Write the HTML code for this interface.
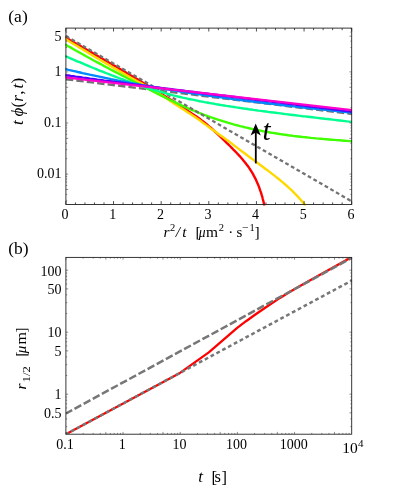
<!DOCTYPE html>
<html><head><meta charset="utf-8"><title>figure</title>
<style>html,body{margin:0;padding:0;background:#fff;font-family:"Liberation Serif",serif;}svg{display:block;opacity:0.999;will-change:transform}</style></head>
<body>
<svg width="395" height="498" viewBox="0 0 395 498">
<rect x="0" y="0" width="395" height="498" fill="#fff"/>
<defs><clipPath id="c1"><rect x="65.3" y="28.1" width="286.7" height="177.3"/></clipPath>
<clipPath id="c2"><rect x="65.9" y="257.4" width="286.3" height="176.8"/></clipPath></defs>
<g clip-path="url(#c1)">
<path d="M65.9 79.3 L352.0 114.0" fill="none" stroke="#737373" stroke-width="2.30" stroke-linejoin="round" stroke-dasharray="7.4 3.1"/>
<path d="M65.0 37.1 L66.0 37.7 L68.0 38.8 L69.9 40.0 L71.9 41.1 L73.8 42.2 L75.8 43.4 L77.8 44.5 L79.7 45.6 L81.7 46.8 L83.7 47.9 L85.6 49.0 L87.6 50.2 L89.6 51.3 L91.5 52.4 L93.5 53.6 L95.4 54.7 L97.4 55.9 L99.4 57.0 L101.3 58.1 L103.3 59.3 L105.2 60.4 L107.2 61.5 L109.2 62.7 L111.1 63.8 L113.1 65.0 L115.0 66.1 L117.0 67.3 L118.9 68.4 L120.9 69.5 L122.8 70.7 L124.8 71.8 L126.7 73.0 L128.7 74.1 L130.6 75.3 L132.6 76.5 L134.5 77.6 L136.5 78.8 L138.4 79.9 L140.4 81.1 L142.3 82.3 L144.3 83.5 L146.2 84.6 L148.1 85.8 L150.1 87.0 L152.0 88.2 L153.9 89.3 L155.9 90.5 L157.8 91.7 L159.7 92.9 L161.7 94.1 L163.6 95.3 L165.5 96.5 L167.4 97.7 L169.4 98.9 L171.3 100.1 L173.2 101.3 L175.1 102.6 L177.0 103.8 L178.9 105.0 L180.8 106.2 L182.8 107.5 L184.7 108.7 L186.6 109.9 L188.4 111.2 L190.3 112.4 L192.2 113.7 L194.1 114.9 L196.0 116.2 L197.8 117.5 L199.6 118.8 L201.4 120.2 L203.2 121.5 L205.0 122.9 L206.7 124.3 L208.5 125.8 L210.2 127.3 L211.9 128.7 L213.6 130.3 L215.2 131.8 L216.9 133.3 L218.5 134.9 L220.1 136.5 L221.8 138.1 L223.4 139.6 L225.0 141.2 L226.6 142.8 L228.3 144.4 L229.9 146.0 L231.5 147.6 L233.1 149.3 L234.7 150.9 L236.3 152.5 L237.8 154.2 L239.4 155.8 L240.9 157.5 L242.4 159.2 L243.8 160.9 L245.3 162.7 L246.6 164.5 L248.0 166.3 L249.3 168.1 L250.5 170.0 L251.7 171.9 L252.9 173.9 L253.9 175.9 L255.0 177.9 L256.0 179.9 L256.9 182.0 L257.8 184.0 L258.7 186.1 L259.5 188.3 L260.2 190.4 L261.0 192.6 L261.6 194.7 L262.3 196.9 L262.8 199.1 L263.4 201.3 L263.9 203.6 L264.3 205.8 L264.8 208.0" fill="none" stroke="#ff0000" stroke-width="2.40" stroke-linejoin="round"/>
<path d="M65.0 38.8 L66.0 39.4 L68.1 40.7 L70.2 42.0 L72.3 43.2 L74.4 44.5 L76.5 45.8 L78.6 47.1 L80.7 48.3 L82.8 49.6 L85.0 50.9 L87.1 52.1 L89.2 53.4 L91.3 54.7 L93.4 55.9 L95.5 57.2 L97.7 58.4 L99.8 59.7 L101.9 60.9 L104.0 62.2 L106.1 63.4 L108.3 64.7 L110.4 65.9 L112.5 67.2 L114.6 68.4 L116.8 69.6 L118.9 70.9 L121.0 72.1 L123.2 73.3 L125.3 74.6 L127.4 75.8 L129.6 77.0 L131.7 78.2 L133.9 79.4 L136.0 80.6 L138.2 81.8 L140.3 82.9 L142.5 84.1 L144.7 85.3 L146.8 86.5 L148.9 87.7 L151.1 89.0 L153.2 90.2 L155.3 91.4 L157.4 92.7 L159.5 94.0 L161.6 95.3 L163.7 96.6 L165.7 98.0 L167.8 99.3 L169.8 100.7 L171.9 102.1 L173.9 103.4 L176.0 104.8 L178.0 106.1 L180.1 107.5 L182.2 108.8 L184.3 110.1 L186.4 111.4 L188.4 112.8 L190.5 114.1 L192.5 115.5 L194.6 116.8 L196.6 118.2 L198.6 119.6 L200.6 121.0 L202.6 122.5 L204.6 123.9 L206.6 125.4 L208.5 126.8 L210.5 128.3 L212.5 129.7 L214.5 131.1 L216.5 132.5 L218.5 134.0 L220.5 135.4 L222.5 136.8 L224.5 138.2 L226.5 139.7 L228.5 141.1 L230.5 142.6 L232.5 144.1 L234.4 145.6 L236.4 147.1 L238.3 148.6 L240.3 150.1 L242.2 151.6 L244.2 153.0 L246.2 154.5 L248.1 156.0 L250.1 157.5 L252.1 158.9 L254.1 160.4 L256.0 161.8 L258.0 163.3 L260.0 164.8 L262.0 166.2 L264.0 167.7 L265.9 169.2 L267.9 170.6 L269.9 172.1 L271.8 173.6 L273.8 175.1 L275.7 176.6 L277.7 178.2 L279.6 179.7 L281.5 181.3 L283.4 182.9 L285.2 184.5 L287.1 186.1 L288.9 187.8 L290.7 189.4 L292.5 191.1 L294.2 192.9 L295.9 194.6 L297.6 196.4 L299.3 198.2 L300.9 200.1 L302.5 201.9 L304.1 203.8 L305.6 205.8" fill="none" stroke="#ffd800" stroke-width="2.40" stroke-linejoin="round"/>
<path d="M65.0 44.3 L66.0 44.9 L68.2 46.2 L70.5 47.4 L72.7 48.7 L74.9 50.0 L77.2 51.3 L79.4 52.5 L81.7 53.8 L83.9 55.0 L86.1 56.3 L88.4 57.5 L90.7 58.7 L92.9 60.0 L95.2 61.2 L97.4 62.4 L99.7 63.6 L102.0 64.8 L104.2 66.1 L106.5 67.3 L108.8 68.5 L111.0 69.7 L113.3 70.9 L115.6 72.1 L117.9 73.3 L120.1 74.4 L122.4 75.6 L124.7 76.8 L127.0 78.0 L129.2 79.2 L131.5 80.4 L133.8 81.5 L136.1 82.7 L138.4 83.9 L140.7 85.1 L142.9 86.2 L145.2 87.4 L147.5 88.6 L149.8 89.8 L152.1 90.9 L154.4 92.1 L156.7 93.3 L159.0 94.4 L161.2 95.6 L163.5 96.7 L165.8 97.9 L168.1 99.0 L170.4 100.1 L172.8 101.3 L175.1 102.4 L177.4 103.5 L179.7 104.6 L182.0 105.6 L184.4 106.7 L186.7 107.7 L189.1 108.8 L191.5 109.8 L193.8 110.7 L196.2 111.7 L198.6 112.7 L201.0 113.6 L203.4 114.5 L205.8 115.4 L208.2 116.3 L210.6 117.1 L213.0 118.0 L215.5 118.8 L217.9 119.6 L220.4 120.4 L222.8 121.2 L225.3 121.9 L227.7 122.7 L230.2 123.4 L232.7 124.1 L235.2 124.8 L237.6 125.4 L240.1 126.1 L242.6 126.7 L245.1 127.3 L247.6 127.9 L250.1 128.5 L252.6 129.1 L255.1 129.6 L257.6 130.1 L260.2 130.6 L262.7 131.1 L265.2 131.6 L267.7 132.0 L270.3 132.5 L272.8 132.9 L275.3 133.3 L277.9 133.7 L280.4 134.1 L283.0 134.5 L285.5 134.8 L288.0 135.2 L290.6 135.5 L293.1 135.9 L295.7 136.2 L298.3 136.5 L300.8 136.8 L303.4 137.1 L305.9 137.3 L308.5 137.6 L311.0 137.9 L313.6 138.1 L316.2 138.4 L318.7 138.6 L321.3 138.8 L323.8 139.1 L326.4 139.3 L329.0 139.5 L331.5 139.7 L334.1 139.9 L336.7 140.1 L339.2 140.3 L341.8 140.5 L344.3 140.7 L346.9 140.9 L349.4 141.1 L352.0 141.3" fill="none" stroke="#40ff00" stroke-width="2.40" stroke-linejoin="round"/>
<path d="M65.9 36.0 L352.0 201.5" fill="none" stroke="#737373" stroke-width="2.30" stroke-linejoin="round" stroke-dasharray="3.8 2.7"/>
<path d="M65.0 55.9 L66.0 56.4 L68.2 57.3 L70.5 58.3 L72.8 59.3 L75.1 60.3 L77.3 61.3 L79.6 62.2 L81.9 63.2 L84.2 64.2 L86.5 65.1 L88.8 66.1 L91.0 67.0 L93.3 68.0 L95.6 68.9 L97.9 69.9 L100.2 70.8 L102.5 71.7 L104.8 72.6 L107.2 73.5 L109.5 74.4 L111.8 75.3 L114.1 76.2 L116.4 77.1 L118.8 78.0 L121.1 78.9 L123.4 79.7 L125.7 80.6 L128.1 81.4 L130.4 82.2 L132.8 83.1 L135.1 83.9 L137.5 84.7 L139.8 85.5 L142.2 86.2 L144.5 87.0 L146.9 87.8 L149.2 88.5 L151.6 89.2 L154.0 90.0 L156.4 90.7 L158.7 91.4 L161.1 92.0 L163.5 92.7 L165.9 93.4 L168.3 94.0 L170.7 94.6 L173.1 95.3 L175.5 95.9 L177.9 96.5 L180.3 97.0 L182.7 97.6 L185.1 98.1 L187.5 98.7 L190.0 99.2 L192.4 99.7 L194.8 100.2 L197.2 100.7 L199.7 101.2 L202.1 101.6 L204.5 102.1 L207.0 102.5 L209.4 103.0 L211.8 103.4 L214.3 103.8 L216.7 104.3 L219.2 104.7 L221.6 105.1 L224.1 105.5 L226.5 105.9 L229.0 106.2 L231.4 106.6 L233.9 107.0 L236.3 107.4 L238.8 107.7 L241.2 108.1 L243.7 108.5 L246.1 108.8 L248.6 109.2 L251.1 109.5 L253.5 109.9 L256.0 110.2 L258.4 110.6 L260.9 110.9 L263.4 111.2 L265.8 111.5 L268.3 111.9 L270.7 112.2 L273.2 112.5 L275.7 112.8 L278.1 113.1 L280.6 113.4 L283.0 113.8 L285.5 114.1 L288.0 114.4 L290.4 114.7 L292.9 115.0 L295.4 115.3 L297.8 115.6 L300.3 115.9 L302.7 116.2 L305.2 116.4 L307.7 116.7 L310.1 117.0 L312.6 117.3 L315.1 117.6 L317.5 117.9 L320.0 118.2 L322.5 118.5 L324.9 118.8 L327.4 119.0 L329.8 119.3 L332.3 119.6 L334.8 119.9 L337.2 120.2 L339.7 120.5 L342.2 120.8 L344.6 121.1 L347.1 121.4 L349.5 121.6 L352.0 121.9" fill="none" stroke="#00ff90" stroke-width="2.40" stroke-linejoin="round"/>
<path d="M65.0 69.0 L66.0 69.2 L68.4 69.8 L70.7 70.3 L73.1 70.9 L75.5 71.4 L77.9 72.0 L80.2 72.5 L82.6 73.1 L85.0 73.6 L87.4 74.1 L89.7 74.7 L92.1 75.2 L94.5 75.7 L96.9 76.2 L99.3 76.7 L101.6 77.2 L104.0 77.7 L106.4 78.2 L108.8 78.7 L111.2 79.2 L113.6 79.6 L115.9 80.1 L118.3 80.6 L120.7 81.1 L123.1 81.5 L125.5 82.0 L127.9 82.4 L130.3 82.9 L132.7 83.3 L135.1 83.8 L137.4 84.2 L139.8 84.6 L142.2 85.1 L144.6 85.5 L147.0 85.9 L149.4 86.4 L151.8 86.8 L154.2 87.2 L156.6 87.6 L159.0 88.0 L161.4 88.4 L163.8 88.8 L166.2 89.2 L168.6 89.6 L171.0 90.0 L173.4 90.4 L175.8 90.7 L178.2 91.1 L180.6 91.5 L183.0 91.9 L185.4 92.2 L187.8 92.6 L190.2 93.0 L192.6 93.3 L195.0 93.7 L197.4 94.0 L199.9 94.4 L202.3 94.7 L204.7 95.1 L207.1 95.4 L209.5 95.8 L211.9 96.1 L214.3 96.4 L216.7 96.8 L219.1 97.1 L221.5 97.4 L223.9 97.8 L226.4 98.1 L228.8 98.4 L231.2 98.7 L233.6 99.1 L236.0 99.4 L238.4 99.7 L240.8 100.0 L243.2 100.3 L245.7 100.6 L248.1 100.9 L250.5 101.2 L252.9 101.5 L255.3 101.8 L257.7 102.1 L260.1 102.4 L262.6 102.7 L265.0 103.0 L267.4 103.3 L269.8 103.6 L272.2 103.9 L274.6 104.1 L277.1 104.4 L279.5 104.7 L281.9 105.0 L284.3 105.3 L286.7 105.5 L289.1 105.8 L291.6 106.1 L294.0 106.4 L296.4 106.6 L298.8 106.9 L301.2 107.2 L303.6 107.5 L306.1 107.7 L308.5 108.0 L310.9 108.3 L313.3 108.5 L315.7 108.8 L318.2 109.1 L320.6 109.3 L323.0 109.6 L325.4 109.8 L327.8 110.1 L330.2 110.4 L332.7 110.6 L335.1 110.9 L337.5 111.2 L339.9 111.4 L342.3 111.7 L344.8 111.9 L347.2 112.2 L349.6 112.4 L352.0 112.7" fill="none" stroke="#0088ff" stroke-width="2.40" stroke-linejoin="round"/>
<path d="M65.0 75.0 L66.0 75.2 L68.4 75.5 L70.8 75.9 L73.2 76.2 L75.6 76.6 L78.0 76.9 L80.4 77.2 L82.8 77.6 L85.2 77.9 L87.6 78.2 L90.0 78.6 L92.4 78.9 L94.8 79.2 L97.2 79.6 L99.6 79.9 L102.0 80.2 L104.4 80.6 L106.8 80.9 L109.2 81.2 L111.6 81.5 L114.0 81.9 L116.4 82.2 L118.8 82.5 L121.2 82.8 L123.6 83.1 L126.0 83.5 L128.4 83.8 L130.8 84.1 L133.2 84.4 L135.6 84.7 L138.0 85.0 L140.4 85.3 L142.8 85.6 L145.2 86.0 L147.6 86.3 L150.0 86.6 L152.4 86.9 L154.8 87.2 L157.2 87.5 L159.6 87.8 L162.0 88.1 L164.4 88.4 L166.8 88.7 L169.2 89.0 L171.6 89.3 L174.0 89.6 L176.5 89.9 L178.9 90.2 L181.3 90.5 L183.7 90.8 L186.1 91.1 L188.5 91.4 L190.9 91.7 L193.3 92.0 L195.7 92.3 L198.1 92.6 L200.5 92.9 L202.9 93.2 L205.3 93.5 L207.7 93.8 L210.1 94.1 L212.5 94.4 L214.9 94.7 L217.3 95.0 L219.7 95.3 L222.1 95.6 L224.6 95.8 L227.0 96.1 L229.4 96.4 L231.8 96.7 L234.2 97.0 L236.6 97.3 L239.0 97.6 L241.4 97.9 L243.8 98.2 L246.2 98.5 L248.6 98.8 L251.0 99.1 L253.4 99.4 L255.8 99.7 L258.2 100.0 L260.6 100.2 L263.0 100.5 L265.4 100.8 L267.9 101.1 L270.3 101.4 L272.7 101.7 L275.1 102.0 L277.5 102.3 L279.9 102.6 L282.3 102.9 L284.7 103.2 L287.1 103.5 L289.5 103.8 L291.9 104.1 L294.3 104.4 L296.7 104.7 L299.1 105.0 L301.5 105.3 L303.9 105.6 L306.3 105.9 L308.7 106.2 L311.1 106.5 L313.5 106.8 L316.0 107.1 L318.4 107.4 L320.8 107.7 L323.2 108.0 L325.6 108.3 L328.0 108.6 L330.4 108.9 L332.8 109.2 L335.2 109.5 L337.6 109.8 L340.0 110.1 L342.4 110.5 L344.8 110.8 L347.2 111.1 L349.6 111.4 L352.0 111.7" fill="none" stroke="#5500ff" stroke-width="2.40" stroke-linejoin="round"/>
<path d="M65.0 77.4 L352.0 110.1" fill="none" stroke="#ff00cc" stroke-width="2.40" stroke-linejoin="round"/>
</g>
<path d="M255.8 163.4 L255.8 130" stroke="#000" stroke-width="1.8" fill="none"/>
<path d="M255.7 123.6 L260.8 135.5 L255.7 132.6 L250.6 135.5 Z" fill="#000"/>
<text x="262.6" y="139.6" font-family="Liberation Serif, serif" font-style="italic" font-size="29" fill="#000">t</text>
<line x1="65.90" y1="204.50" x2="65.90" y2="201.10" stroke="#222" stroke-width="0.8"/>
<line x1="75.43" y1="204.50" x2="75.43" y2="202.40" stroke="#222" stroke-width="0.8"/>
<line x1="84.95" y1="204.50" x2="84.95" y2="202.40" stroke="#222" stroke-width="0.8"/>
<line x1="94.48" y1="204.50" x2="94.48" y2="202.40" stroke="#222" stroke-width="0.8"/>
<line x1="104.01" y1="204.50" x2="104.01" y2="202.40" stroke="#222" stroke-width="0.8"/>
<line x1="113.53" y1="204.50" x2="113.53" y2="201.10" stroke="#222" stroke-width="0.8"/>
<line x1="123.06" y1="204.50" x2="123.06" y2="202.40" stroke="#222" stroke-width="0.8"/>
<line x1="132.59" y1="204.50" x2="132.59" y2="202.40" stroke="#222" stroke-width="0.8"/>
<line x1="142.11" y1="204.50" x2="142.11" y2="202.40" stroke="#222" stroke-width="0.8"/>
<line x1="151.64" y1="204.50" x2="151.64" y2="202.40" stroke="#222" stroke-width="0.8"/>
<line x1="161.17" y1="204.50" x2="161.17" y2="201.10" stroke="#222" stroke-width="0.8"/>
<line x1="170.69" y1="204.50" x2="170.69" y2="202.40" stroke="#222" stroke-width="0.8"/>
<line x1="180.22" y1="204.50" x2="180.22" y2="202.40" stroke="#222" stroke-width="0.8"/>
<line x1="189.75" y1="204.50" x2="189.75" y2="202.40" stroke="#222" stroke-width="0.8"/>
<line x1="199.27" y1="204.50" x2="199.27" y2="202.40" stroke="#222" stroke-width="0.8"/>
<line x1="208.80" y1="204.50" x2="208.80" y2="201.10" stroke="#222" stroke-width="0.8"/>
<line x1="218.33" y1="204.50" x2="218.33" y2="202.40" stroke="#222" stroke-width="0.8"/>
<line x1="227.85" y1="204.50" x2="227.85" y2="202.40" stroke="#222" stroke-width="0.8"/>
<line x1="237.38" y1="204.50" x2="237.38" y2="202.40" stroke="#222" stroke-width="0.8"/>
<line x1="246.91" y1="204.50" x2="246.91" y2="202.40" stroke="#222" stroke-width="0.8"/>
<line x1="256.43" y1="204.50" x2="256.43" y2="201.10" stroke="#222" stroke-width="0.8"/>
<line x1="265.96" y1="204.50" x2="265.96" y2="202.40" stroke="#222" stroke-width="0.8"/>
<line x1="275.49" y1="204.50" x2="275.49" y2="202.40" stroke="#222" stroke-width="0.8"/>
<line x1="285.01" y1="204.50" x2="285.01" y2="202.40" stroke="#222" stroke-width="0.8"/>
<line x1="294.54" y1="204.50" x2="294.54" y2="202.40" stroke="#222" stroke-width="0.8"/>
<line x1="304.07" y1="204.50" x2="304.07" y2="201.10" stroke="#222" stroke-width="0.8"/>
<line x1="313.59" y1="204.50" x2="313.59" y2="202.40" stroke="#222" stroke-width="0.8"/>
<line x1="323.12" y1="204.50" x2="323.12" y2="202.40" stroke="#222" stroke-width="0.8"/>
<line x1="332.65" y1="204.50" x2="332.65" y2="202.40" stroke="#222" stroke-width="0.8"/>
<line x1="342.17" y1="204.50" x2="342.17" y2="202.40" stroke="#222" stroke-width="0.8"/>
<line x1="351.70" y1="204.50" x2="351.70" y2="201.10" stroke="#222" stroke-width="0.8"/>
<line x1="65.90" y1="28.10" x2="65.90" y2="31.50" stroke="#222" stroke-width="0.8"/>
<line x1="75.43" y1="28.10" x2="75.43" y2="30.20" stroke="#222" stroke-width="0.8"/>
<line x1="84.95" y1="28.10" x2="84.95" y2="30.20" stroke="#222" stroke-width="0.8"/>
<line x1="94.48" y1="28.10" x2="94.48" y2="30.20" stroke="#222" stroke-width="0.8"/>
<line x1="104.01" y1="28.10" x2="104.01" y2="30.20" stroke="#222" stroke-width="0.8"/>
<line x1="113.53" y1="28.10" x2="113.53" y2="31.50" stroke="#222" stroke-width="0.8"/>
<line x1="123.06" y1="28.10" x2="123.06" y2="30.20" stroke="#222" stroke-width="0.8"/>
<line x1="132.59" y1="28.10" x2="132.59" y2="30.20" stroke="#222" stroke-width="0.8"/>
<line x1="142.11" y1="28.10" x2="142.11" y2="30.20" stroke="#222" stroke-width="0.8"/>
<line x1="151.64" y1="28.10" x2="151.64" y2="30.20" stroke="#222" stroke-width="0.8"/>
<line x1="161.17" y1="28.10" x2="161.17" y2="31.50" stroke="#222" stroke-width="0.8"/>
<line x1="170.69" y1="28.10" x2="170.69" y2="30.20" stroke="#222" stroke-width="0.8"/>
<line x1="180.22" y1="28.10" x2="180.22" y2="30.20" stroke="#222" stroke-width="0.8"/>
<line x1="189.75" y1="28.10" x2="189.75" y2="30.20" stroke="#222" stroke-width="0.8"/>
<line x1="199.27" y1="28.10" x2="199.27" y2="30.20" stroke="#222" stroke-width="0.8"/>
<line x1="208.80" y1="28.10" x2="208.80" y2="31.50" stroke="#222" stroke-width="0.8"/>
<line x1="218.33" y1="28.10" x2="218.33" y2="30.20" stroke="#222" stroke-width="0.8"/>
<line x1="227.85" y1="28.10" x2="227.85" y2="30.20" stroke="#222" stroke-width="0.8"/>
<line x1="237.38" y1="28.10" x2="237.38" y2="30.20" stroke="#222" stroke-width="0.8"/>
<line x1="246.91" y1="28.10" x2="246.91" y2="30.20" stroke="#222" stroke-width="0.8"/>
<line x1="256.43" y1="28.10" x2="256.43" y2="31.50" stroke="#222" stroke-width="0.8"/>
<line x1="265.96" y1="28.10" x2="265.96" y2="30.20" stroke="#222" stroke-width="0.8"/>
<line x1="275.49" y1="28.10" x2="275.49" y2="30.20" stroke="#222" stroke-width="0.8"/>
<line x1="285.01" y1="28.10" x2="285.01" y2="30.20" stroke="#222" stroke-width="0.8"/>
<line x1="294.54" y1="28.10" x2="294.54" y2="30.20" stroke="#222" stroke-width="0.8"/>
<line x1="304.07" y1="28.10" x2="304.07" y2="31.50" stroke="#222" stroke-width="0.8"/>
<line x1="313.59" y1="28.10" x2="313.59" y2="30.20" stroke="#222" stroke-width="0.8"/>
<line x1="323.12" y1="28.10" x2="323.12" y2="30.20" stroke="#222" stroke-width="0.8"/>
<line x1="332.65" y1="28.10" x2="332.65" y2="30.20" stroke="#222" stroke-width="0.8"/>
<line x1="342.17" y1="28.10" x2="342.17" y2="30.20" stroke="#222" stroke-width="0.8"/>
<line x1="351.70" y1="28.10" x2="351.70" y2="31.50" stroke="#222" stroke-width="0.8"/>
<line x1="65.90" y1="200.82" x2="67.20" y2="200.82" stroke="#444" stroke-width="0.6"/>
<line x1="65.90" y1="194.43" x2="67.20" y2="194.43" stroke="#444" stroke-width="0.6"/>
<line x1="65.90" y1="189.48" x2="68.20" y2="189.48" stroke="#444" stroke-width="0.6"/>
<line x1="65.90" y1="185.44" x2="67.20" y2="185.44" stroke="#444" stroke-width="0.6"/>
<line x1="65.90" y1="182.02" x2="67.20" y2="182.02" stroke="#444" stroke-width="0.6"/>
<line x1="65.90" y1="179.05" x2="67.20" y2="179.05" stroke="#444" stroke-width="0.6"/>
<line x1="65.90" y1="176.44" x2="67.20" y2="176.44" stroke="#444" stroke-width="0.6"/>
<line x1="65.90" y1="174.10" x2="68.20" y2="174.10" stroke="#444" stroke-width="0.6"/>
<line x1="65.90" y1="158.72" x2="67.20" y2="158.72" stroke="#444" stroke-width="0.6"/>
<line x1="65.90" y1="149.72" x2="67.20" y2="149.72" stroke="#444" stroke-width="0.6"/>
<line x1="65.90" y1="143.33" x2="67.20" y2="143.33" stroke="#444" stroke-width="0.6"/>
<line x1="65.90" y1="138.38" x2="68.20" y2="138.38" stroke="#444" stroke-width="0.6"/>
<line x1="65.90" y1="134.34" x2="67.20" y2="134.34" stroke="#444" stroke-width="0.6"/>
<line x1="65.90" y1="130.92" x2="67.20" y2="130.92" stroke="#444" stroke-width="0.6"/>
<line x1="65.90" y1="127.95" x2="67.20" y2="127.95" stroke="#444" stroke-width="0.6"/>
<line x1="65.90" y1="125.34" x2="67.20" y2="125.34" stroke="#444" stroke-width="0.6"/>
<line x1="65.90" y1="123.00" x2="68.20" y2="123.00" stroke="#444" stroke-width="0.6"/>
<line x1="65.90" y1="107.62" x2="67.20" y2="107.62" stroke="#444" stroke-width="0.6"/>
<line x1="65.90" y1="98.62" x2="67.20" y2="98.62" stroke="#444" stroke-width="0.6"/>
<line x1="65.90" y1="92.23" x2="67.20" y2="92.23" stroke="#444" stroke-width="0.6"/>
<line x1="65.90" y1="87.28" x2="68.20" y2="87.28" stroke="#444" stroke-width="0.6"/>
<line x1="65.90" y1="83.24" x2="67.20" y2="83.24" stroke="#444" stroke-width="0.6"/>
<line x1="65.90" y1="79.82" x2="67.20" y2="79.82" stroke="#444" stroke-width="0.6"/>
<line x1="65.90" y1="76.85" x2="67.20" y2="76.85" stroke="#444" stroke-width="0.6"/>
<line x1="65.90" y1="74.24" x2="67.20" y2="74.24" stroke="#444" stroke-width="0.6"/>
<line x1="65.90" y1="71.90" x2="68.20" y2="71.90" stroke="#444" stroke-width="0.6"/>
<line x1="65.90" y1="56.52" x2="67.20" y2="56.52" stroke="#444" stroke-width="0.6"/>
<line x1="65.90" y1="47.52" x2="67.20" y2="47.52" stroke="#444" stroke-width="0.6"/>
<line x1="65.90" y1="41.13" x2="67.20" y2="41.13" stroke="#444" stroke-width="0.6"/>
<line x1="65.90" y1="36.18" x2="68.20" y2="36.18" stroke="#444" stroke-width="0.6"/>
<line x1="65.90" y1="32.14" x2="67.20" y2="32.14" stroke="#444" stroke-width="0.6"/>
<line x1="65.90" y1="28.72" x2="67.20" y2="28.72" stroke="#444" stroke-width="0.6"/>
<line x1="351.70" y1="200.82" x2="350.40" y2="200.82" stroke="#444" stroke-width="0.6"/>
<line x1="351.70" y1="194.43" x2="350.40" y2="194.43" stroke="#444" stroke-width="0.6"/>
<line x1="351.70" y1="189.48" x2="349.40" y2="189.48" stroke="#444" stroke-width="0.6"/>
<line x1="351.70" y1="185.44" x2="350.40" y2="185.44" stroke="#444" stroke-width="0.6"/>
<line x1="351.70" y1="182.02" x2="350.40" y2="182.02" stroke="#444" stroke-width="0.6"/>
<line x1="351.70" y1="179.05" x2="350.40" y2="179.05" stroke="#444" stroke-width="0.6"/>
<line x1="351.70" y1="176.44" x2="350.40" y2="176.44" stroke="#444" stroke-width="0.6"/>
<line x1="351.70" y1="174.10" x2="349.40" y2="174.10" stroke="#444" stroke-width="0.6"/>
<line x1="351.70" y1="158.72" x2="350.40" y2="158.72" stroke="#444" stroke-width="0.6"/>
<line x1="351.70" y1="149.72" x2="350.40" y2="149.72" stroke="#444" stroke-width="0.6"/>
<line x1="351.70" y1="143.33" x2="350.40" y2="143.33" stroke="#444" stroke-width="0.6"/>
<line x1="351.70" y1="138.38" x2="349.40" y2="138.38" stroke="#444" stroke-width="0.6"/>
<line x1="351.70" y1="134.34" x2="350.40" y2="134.34" stroke="#444" stroke-width="0.6"/>
<line x1="351.70" y1="130.92" x2="350.40" y2="130.92" stroke="#444" stroke-width="0.6"/>
<line x1="351.70" y1="127.95" x2="350.40" y2="127.95" stroke="#444" stroke-width="0.6"/>
<line x1="351.70" y1="125.34" x2="350.40" y2="125.34" stroke="#444" stroke-width="0.6"/>
<line x1="351.70" y1="123.00" x2="349.40" y2="123.00" stroke="#444" stroke-width="0.6"/>
<line x1="351.70" y1="107.62" x2="350.40" y2="107.62" stroke="#444" stroke-width="0.6"/>
<line x1="351.70" y1="98.62" x2="350.40" y2="98.62" stroke="#444" stroke-width="0.6"/>
<line x1="351.70" y1="92.23" x2="350.40" y2="92.23" stroke="#444" stroke-width="0.6"/>
<line x1="351.70" y1="87.28" x2="349.40" y2="87.28" stroke="#444" stroke-width="0.6"/>
<line x1="351.70" y1="83.24" x2="350.40" y2="83.24" stroke="#444" stroke-width="0.6"/>
<line x1="351.70" y1="79.82" x2="350.40" y2="79.82" stroke="#444" stroke-width="0.6"/>
<line x1="351.70" y1="76.85" x2="350.40" y2="76.85" stroke="#444" stroke-width="0.6"/>
<line x1="351.70" y1="74.24" x2="350.40" y2="74.24" stroke="#444" stroke-width="0.6"/>
<line x1="351.70" y1="71.90" x2="349.40" y2="71.90" stroke="#444" stroke-width="0.6"/>
<line x1="351.70" y1="56.52" x2="350.40" y2="56.52" stroke="#444" stroke-width="0.6"/>
<line x1="351.70" y1="47.52" x2="350.40" y2="47.52" stroke="#444" stroke-width="0.6"/>
<line x1="351.70" y1="41.13" x2="350.40" y2="41.13" stroke="#444" stroke-width="0.6"/>
<line x1="351.70" y1="36.18" x2="349.40" y2="36.18" stroke="#444" stroke-width="0.6"/>
<line x1="351.70" y1="32.14" x2="350.40" y2="32.14" stroke="#444" stroke-width="0.6"/>
<line x1="351.70" y1="28.72" x2="350.40" y2="28.72" stroke="#444" stroke-width="0.6"/>
<rect x="65.90" y="28.10" width="285.80" height="176.40" fill="none" stroke="#222" stroke-width="0.9"/>
<text x="61.6" y="40.7" text-anchor="end" font-family="Liberation Serif, serif" font-size="14" fill="#000" >5</text>
<text x="61.6" y="76.4" text-anchor="end" font-family="Liberation Serif, serif" font-size="14" fill="#000" >1</text>
<text x="61.6" y="127.1" text-anchor="end" font-family="Liberation Serif, serif" font-size="14" fill="#000" >0.1</text>
<text x="61.6" y="177.8" text-anchor="end" font-family="Liberation Serif, serif" font-size="14" fill="#000" >0.01</text>
<text x="65.1" y="218.5" text-anchor="middle" font-family="Liberation Serif, serif" font-size="14" fill="#000" >0</text>
<text x="112.7" y="218.5" text-anchor="middle" font-family="Liberation Serif, serif" font-size="14" fill="#000" >1</text>
<text x="160.4" y="218.5" text-anchor="middle" font-family="Liberation Serif, serif" font-size="14" fill="#000" >2</text>
<text x="208.0" y="218.5" text-anchor="middle" font-family="Liberation Serif, serif" font-size="14" fill="#000" >3</text>
<text x="255.6" y="218.5" text-anchor="middle" font-family="Liberation Serif, serif" font-size="14" fill="#000" >4</text>
<text x="303.3" y="218.5" text-anchor="middle" font-family="Liberation Serif, serif" font-size="14" fill="#000" >5</text>
<text x="350.9" y="218.5" text-anchor="middle" font-family="Liberation Serif, serif" font-size="14" fill="#000" >6</text>
<text x="8.3" y="22.0" font-family="Liberation Serif, serif" font-size="17.5" fill="#000">(a)</text>
<text x="8.3" y="254.0" font-family="Liberation Serif, serif" font-size="17.5" fill="#000">(b)</text>
<text x="163.6" y="236.6" font-family="Liberation Serif, serif" fill="#000" font-size="15.5" font-style="italic">r</text>
<text x="170.0" y="231.2" font-family="Liberation Serif, serif" fill="#000" font-size="10.5">2</text>
<text x="175.8" y="236.6" font-family="Liberation Serif, serif" fill="#000" font-size="15.5" font-style="italic">/</text>
<text x="182.2" y="236.6" font-family="Liberation Serif, serif" fill="#000" font-size="15.5" font-style="italic">t</text>
<text x="195.6" y="237.2" font-family="Liberation Serif, serif" fill="#000" font-size="15.5">[</text>
<text x="198.8" y="236.6" font-family="Liberation Serif, serif" fill="#000" font-size="15.0" font-style="italic" textLength="6.8" lengthAdjust="spacingAndGlyphs">μ</text>
<text x="205.9" y="236.6" font-family="Liberation Serif, serif" fill="#000" font-size="15.0" textLength="12.0" lengthAdjust="spacingAndGlyphs">m</text>
<text x="218.8" y="231.2" font-family="Liberation Serif, serif" fill="#000" font-size="10.5">2</text>
<text x="228.2" y="236.6" font-family="Liberation Serif, serif" fill="#000" font-size="15.0">·</text>
<text x="236.4" y="236.6" font-family="Liberation Serif, serif" fill="#000" font-size="15.0">s</text>
<text x="242.2" y="231.2" font-family="Liberation Serif, serif" fill="#000" font-size="10.5" textLength="6.6" lengthAdjust="spacingAndGlyphs">−</text>
<text x="249.4" y="231.2" font-family="Liberation Serif, serif" fill="#000" font-size="10.5">1</text>
<text x="254.4" y="237.2" font-family="Liberation Serif, serif" fill="#000" font-size="15.5">]</text>
<text transform="translate(22.8,101.4) rotate(-90)" text-anchor="middle" font-family="Liberation Serif, serif" font-size="17" textLength="47" lengthAdjust="spacing" fill="#000"><tspan font-style="italic">t&#8201;ϕ</tspan>(<tspan font-style="italic">r</tspan>,<tspan font-style="italic" dx="2">t</tspan>)</text>
<g clip-path="url(#c2)">
<path d="M65.9 434.2 L180.0 372.9 L208.8 352.4 L237.2 327.8 L246.0 321.2 L255.0 314.8 L263.0 309.3 L270.0 304.5 L280.0 297.9 L290.0 291.8 L300.0 286.0 L320.0 274.8 L352.0 256.9" fill="none" stroke="#ff0000" stroke-width="2.30" stroke-linejoin="round"/>
<path d="M65.9 413.5 L352.0 257.8" fill="none" stroke="#777" stroke-width="2.50" stroke-linejoin="round" stroke-dasharray="7.7 2.7" stroke-dashoffset="0.6"/>
<path d="M65.9 434.2 L352.0 280.4" fill="none" stroke="#777" stroke-width="2.50" stroke-linejoin="round" stroke-dasharray="3.8 2.8" stroke-dashoffset="0.7"/>
</g>
<line x1="65.90" y1="434.20" x2="65.90" y2="431.90" stroke="#444" stroke-width="0.6"/>
<line x1="83.11" y1="434.20" x2="83.11" y2="432.90" stroke="#444" stroke-width="0.6"/>
<line x1="93.17" y1="434.20" x2="93.17" y2="432.90" stroke="#444" stroke-width="0.6"/>
<line x1="100.31" y1="434.20" x2="100.31" y2="432.90" stroke="#444" stroke-width="0.6"/>
<line x1="105.85" y1="434.20" x2="105.85" y2="431.90" stroke="#444" stroke-width="0.6"/>
<line x1="110.38" y1="434.20" x2="110.38" y2="432.90" stroke="#444" stroke-width="0.6"/>
<line x1="114.21" y1="434.20" x2="114.21" y2="432.90" stroke="#444" stroke-width="0.6"/>
<line x1="117.52" y1="434.20" x2="117.52" y2="432.90" stroke="#444" stroke-width="0.6"/>
<line x1="120.44" y1="434.20" x2="120.44" y2="432.90" stroke="#444" stroke-width="0.6"/>
<line x1="123.06" y1="434.20" x2="123.06" y2="431.90" stroke="#444" stroke-width="0.6"/>
<line x1="140.27" y1="434.20" x2="140.27" y2="432.90" stroke="#444" stroke-width="0.6"/>
<line x1="150.33" y1="434.20" x2="150.33" y2="432.90" stroke="#444" stroke-width="0.6"/>
<line x1="157.47" y1="434.20" x2="157.47" y2="432.90" stroke="#444" stroke-width="0.6"/>
<line x1="163.01" y1="434.20" x2="163.01" y2="431.90" stroke="#444" stroke-width="0.6"/>
<line x1="167.54" y1="434.20" x2="167.54" y2="432.90" stroke="#444" stroke-width="0.6"/>
<line x1="171.37" y1="434.20" x2="171.37" y2="432.90" stroke="#444" stroke-width="0.6"/>
<line x1="174.68" y1="434.20" x2="174.68" y2="432.90" stroke="#444" stroke-width="0.6"/>
<line x1="177.60" y1="434.20" x2="177.60" y2="432.90" stroke="#444" stroke-width="0.6"/>
<line x1="180.22" y1="434.20" x2="180.22" y2="431.90" stroke="#444" stroke-width="0.6"/>
<line x1="197.43" y1="434.20" x2="197.43" y2="432.90" stroke="#444" stroke-width="0.6"/>
<line x1="207.49" y1="434.20" x2="207.49" y2="432.90" stroke="#444" stroke-width="0.6"/>
<line x1="214.63" y1="434.20" x2="214.63" y2="432.90" stroke="#444" stroke-width="0.6"/>
<line x1="220.17" y1="434.20" x2="220.17" y2="431.90" stroke="#444" stroke-width="0.6"/>
<line x1="224.70" y1="434.20" x2="224.70" y2="432.90" stroke="#444" stroke-width="0.6"/>
<line x1="228.53" y1="434.20" x2="228.53" y2="432.90" stroke="#444" stroke-width="0.6"/>
<line x1="231.84" y1="434.20" x2="231.84" y2="432.90" stroke="#444" stroke-width="0.6"/>
<line x1="234.76" y1="434.20" x2="234.76" y2="432.90" stroke="#444" stroke-width="0.6"/>
<line x1="237.38" y1="434.20" x2="237.38" y2="431.90" stroke="#444" stroke-width="0.6"/>
<line x1="254.59" y1="434.20" x2="254.59" y2="432.90" stroke="#444" stroke-width="0.6"/>
<line x1="264.65" y1="434.20" x2="264.65" y2="432.90" stroke="#444" stroke-width="0.6"/>
<line x1="271.79" y1="434.20" x2="271.79" y2="432.90" stroke="#444" stroke-width="0.6"/>
<line x1="277.33" y1="434.20" x2="277.33" y2="431.90" stroke="#444" stroke-width="0.6"/>
<line x1="281.86" y1="434.20" x2="281.86" y2="432.90" stroke="#444" stroke-width="0.6"/>
<line x1="285.69" y1="434.20" x2="285.69" y2="432.90" stroke="#444" stroke-width="0.6"/>
<line x1="289.00" y1="434.20" x2="289.00" y2="432.90" stroke="#444" stroke-width="0.6"/>
<line x1="291.92" y1="434.20" x2="291.92" y2="432.90" stroke="#444" stroke-width="0.6"/>
<line x1="294.54" y1="434.20" x2="294.54" y2="431.90" stroke="#444" stroke-width="0.6"/>
<line x1="311.75" y1="434.20" x2="311.75" y2="432.90" stroke="#444" stroke-width="0.6"/>
<line x1="321.81" y1="434.20" x2="321.81" y2="432.90" stroke="#444" stroke-width="0.6"/>
<line x1="328.95" y1="434.20" x2="328.95" y2="432.90" stroke="#444" stroke-width="0.6"/>
<line x1="334.49" y1="434.20" x2="334.49" y2="431.90" stroke="#444" stroke-width="0.6"/>
<line x1="339.02" y1="434.20" x2="339.02" y2="432.90" stroke="#444" stroke-width="0.6"/>
<line x1="342.85" y1="434.20" x2="342.85" y2="432.90" stroke="#444" stroke-width="0.6"/>
<line x1="346.16" y1="434.20" x2="346.16" y2="432.90" stroke="#444" stroke-width="0.6"/>
<line x1="349.08" y1="434.20" x2="349.08" y2="432.90" stroke="#444" stroke-width="0.6"/>
<line x1="65.90" y1="257.40" x2="65.90" y2="259.70" stroke="#444" stroke-width="0.6"/>
<line x1="83.11" y1="257.40" x2="83.11" y2="258.70" stroke="#444" stroke-width="0.6"/>
<line x1="93.17" y1="257.40" x2="93.17" y2="258.70" stroke="#444" stroke-width="0.6"/>
<line x1="100.31" y1="257.40" x2="100.31" y2="258.70" stroke="#444" stroke-width="0.6"/>
<line x1="105.85" y1="257.40" x2="105.85" y2="259.70" stroke="#444" stroke-width="0.6"/>
<line x1="110.38" y1="257.40" x2="110.38" y2="258.70" stroke="#444" stroke-width="0.6"/>
<line x1="114.21" y1="257.40" x2="114.21" y2="258.70" stroke="#444" stroke-width="0.6"/>
<line x1="117.52" y1="257.40" x2="117.52" y2="258.70" stroke="#444" stroke-width="0.6"/>
<line x1="120.44" y1="257.40" x2="120.44" y2="258.70" stroke="#444" stroke-width="0.6"/>
<line x1="123.06" y1="257.40" x2="123.06" y2="259.70" stroke="#444" stroke-width="0.6"/>
<line x1="140.27" y1="257.40" x2="140.27" y2="258.70" stroke="#444" stroke-width="0.6"/>
<line x1="150.33" y1="257.40" x2="150.33" y2="258.70" stroke="#444" stroke-width="0.6"/>
<line x1="157.47" y1="257.40" x2="157.47" y2="258.70" stroke="#444" stroke-width="0.6"/>
<line x1="163.01" y1="257.40" x2="163.01" y2="259.70" stroke="#444" stroke-width="0.6"/>
<line x1="167.54" y1="257.40" x2="167.54" y2="258.70" stroke="#444" stroke-width="0.6"/>
<line x1="171.37" y1="257.40" x2="171.37" y2="258.70" stroke="#444" stroke-width="0.6"/>
<line x1="174.68" y1="257.40" x2="174.68" y2="258.70" stroke="#444" stroke-width="0.6"/>
<line x1="177.60" y1="257.40" x2="177.60" y2="258.70" stroke="#444" stroke-width="0.6"/>
<line x1="180.22" y1="257.40" x2="180.22" y2="259.70" stroke="#444" stroke-width="0.6"/>
<line x1="197.43" y1="257.40" x2="197.43" y2="258.70" stroke="#444" stroke-width="0.6"/>
<line x1="207.49" y1="257.40" x2="207.49" y2="258.70" stroke="#444" stroke-width="0.6"/>
<line x1="214.63" y1="257.40" x2="214.63" y2="258.70" stroke="#444" stroke-width="0.6"/>
<line x1="220.17" y1="257.40" x2="220.17" y2="259.70" stroke="#444" stroke-width="0.6"/>
<line x1="224.70" y1="257.40" x2="224.70" y2="258.70" stroke="#444" stroke-width="0.6"/>
<line x1="228.53" y1="257.40" x2="228.53" y2="258.70" stroke="#444" stroke-width="0.6"/>
<line x1="231.84" y1="257.40" x2="231.84" y2="258.70" stroke="#444" stroke-width="0.6"/>
<line x1="234.76" y1="257.40" x2="234.76" y2="258.70" stroke="#444" stroke-width="0.6"/>
<line x1="237.38" y1="257.40" x2="237.38" y2="259.70" stroke="#444" stroke-width="0.6"/>
<line x1="254.59" y1="257.40" x2="254.59" y2="258.70" stroke="#444" stroke-width="0.6"/>
<line x1="264.65" y1="257.40" x2="264.65" y2="258.70" stroke="#444" stroke-width="0.6"/>
<line x1="271.79" y1="257.40" x2="271.79" y2="258.70" stroke="#444" stroke-width="0.6"/>
<line x1="277.33" y1="257.40" x2="277.33" y2="259.70" stroke="#444" stroke-width="0.6"/>
<line x1="281.86" y1="257.40" x2="281.86" y2="258.70" stroke="#444" stroke-width="0.6"/>
<line x1="285.69" y1="257.40" x2="285.69" y2="258.70" stroke="#444" stroke-width="0.6"/>
<line x1="289.00" y1="257.40" x2="289.00" y2="258.70" stroke="#444" stroke-width="0.6"/>
<line x1="291.92" y1="257.40" x2="291.92" y2="258.70" stroke="#444" stroke-width="0.6"/>
<line x1="294.54" y1="257.40" x2="294.54" y2="259.70" stroke="#444" stroke-width="0.6"/>
<line x1="311.75" y1="257.40" x2="311.75" y2="258.70" stroke="#444" stroke-width="0.6"/>
<line x1="321.81" y1="257.40" x2="321.81" y2="258.70" stroke="#444" stroke-width="0.6"/>
<line x1="328.95" y1="257.40" x2="328.95" y2="258.70" stroke="#444" stroke-width="0.6"/>
<line x1="334.49" y1="257.40" x2="334.49" y2="259.70" stroke="#444" stroke-width="0.6"/>
<line x1="339.02" y1="257.40" x2="339.02" y2="258.70" stroke="#444" stroke-width="0.6"/>
<line x1="342.85" y1="257.40" x2="342.85" y2="258.70" stroke="#444" stroke-width="0.6"/>
<line x1="346.16" y1="257.40" x2="346.16" y2="258.70" stroke="#444" stroke-width="0.6"/>
<line x1="349.08" y1="257.40" x2="349.08" y2="258.70" stroke="#444" stroke-width="0.6"/>
<line x1="65.90" y1="426.62" x2="67.20" y2="426.62" stroke="#444" stroke-width="0.6"/>
<line x1="65.90" y1="418.87" x2="67.20" y2="418.87" stroke="#444" stroke-width="0.6"/>
<line x1="65.90" y1="412.86" x2="68.20" y2="412.86" stroke="#444" stroke-width="0.6"/>
<line x1="65.90" y1="407.95" x2="67.20" y2="407.95" stroke="#444" stroke-width="0.6"/>
<line x1="65.90" y1="403.80" x2="67.20" y2="403.80" stroke="#444" stroke-width="0.6"/>
<line x1="65.90" y1="400.21" x2="67.20" y2="400.21" stroke="#444" stroke-width="0.6"/>
<line x1="65.90" y1="397.04" x2="67.20" y2="397.04" stroke="#444" stroke-width="0.6"/>
<line x1="65.90" y1="394.20" x2="68.20" y2="394.20" stroke="#444" stroke-width="0.6"/>
<line x1="65.90" y1="375.54" x2="67.20" y2="375.54" stroke="#444" stroke-width="0.6"/>
<line x1="65.90" y1="364.62" x2="67.20" y2="364.62" stroke="#444" stroke-width="0.6"/>
<line x1="65.90" y1="356.87" x2="67.20" y2="356.87" stroke="#444" stroke-width="0.6"/>
<line x1="65.90" y1="350.86" x2="68.20" y2="350.86" stroke="#444" stroke-width="0.6"/>
<line x1="65.90" y1="345.95" x2="67.20" y2="345.95" stroke="#444" stroke-width="0.6"/>
<line x1="65.90" y1="341.80" x2="67.20" y2="341.80" stroke="#444" stroke-width="0.6"/>
<line x1="65.90" y1="338.21" x2="67.20" y2="338.21" stroke="#444" stroke-width="0.6"/>
<line x1="65.90" y1="335.04" x2="67.20" y2="335.04" stroke="#444" stroke-width="0.6"/>
<line x1="65.90" y1="332.20" x2="68.20" y2="332.20" stroke="#444" stroke-width="0.6"/>
<line x1="65.90" y1="313.54" x2="67.20" y2="313.54" stroke="#444" stroke-width="0.6"/>
<line x1="65.90" y1="302.62" x2="67.20" y2="302.62" stroke="#444" stroke-width="0.6"/>
<line x1="65.90" y1="294.87" x2="67.20" y2="294.87" stroke="#444" stroke-width="0.6"/>
<line x1="65.90" y1="288.86" x2="68.20" y2="288.86" stroke="#444" stroke-width="0.6"/>
<line x1="65.90" y1="283.95" x2="67.20" y2="283.95" stroke="#444" stroke-width="0.6"/>
<line x1="65.90" y1="279.80" x2="67.20" y2="279.80" stroke="#444" stroke-width="0.6"/>
<line x1="65.90" y1="276.21" x2="67.20" y2="276.21" stroke="#444" stroke-width="0.6"/>
<line x1="65.90" y1="273.04" x2="67.20" y2="273.04" stroke="#444" stroke-width="0.6"/>
<line x1="65.90" y1="270.20" x2="68.20" y2="270.20" stroke="#444" stroke-width="0.6"/>
<line x1="351.70" y1="426.62" x2="350.40" y2="426.62" stroke="#444" stroke-width="0.6"/>
<line x1="351.70" y1="418.87" x2="350.40" y2="418.87" stroke="#444" stroke-width="0.6"/>
<line x1="351.70" y1="412.86" x2="349.40" y2="412.86" stroke="#444" stroke-width="0.6"/>
<line x1="351.70" y1="407.95" x2="350.40" y2="407.95" stroke="#444" stroke-width="0.6"/>
<line x1="351.70" y1="403.80" x2="350.40" y2="403.80" stroke="#444" stroke-width="0.6"/>
<line x1="351.70" y1="400.21" x2="350.40" y2="400.21" stroke="#444" stroke-width="0.6"/>
<line x1="351.70" y1="397.04" x2="350.40" y2="397.04" stroke="#444" stroke-width="0.6"/>
<line x1="351.70" y1="394.20" x2="349.40" y2="394.20" stroke="#444" stroke-width="0.6"/>
<line x1="351.70" y1="375.54" x2="350.40" y2="375.54" stroke="#444" stroke-width="0.6"/>
<line x1="351.70" y1="364.62" x2="350.40" y2="364.62" stroke="#444" stroke-width="0.6"/>
<line x1="351.70" y1="356.87" x2="350.40" y2="356.87" stroke="#444" stroke-width="0.6"/>
<line x1="351.70" y1="350.86" x2="349.40" y2="350.86" stroke="#444" stroke-width="0.6"/>
<line x1="351.70" y1="345.95" x2="350.40" y2="345.95" stroke="#444" stroke-width="0.6"/>
<line x1="351.70" y1="341.80" x2="350.40" y2="341.80" stroke="#444" stroke-width="0.6"/>
<line x1="351.70" y1="338.21" x2="350.40" y2="338.21" stroke="#444" stroke-width="0.6"/>
<line x1="351.70" y1="335.04" x2="350.40" y2="335.04" stroke="#444" stroke-width="0.6"/>
<line x1="351.70" y1="332.20" x2="349.40" y2="332.20" stroke="#444" stroke-width="0.6"/>
<line x1="351.70" y1="313.54" x2="350.40" y2="313.54" stroke="#444" stroke-width="0.6"/>
<line x1="351.70" y1="302.62" x2="350.40" y2="302.62" stroke="#444" stroke-width="0.6"/>
<line x1="351.70" y1="294.87" x2="350.40" y2="294.87" stroke="#444" stroke-width="0.6"/>
<line x1="351.70" y1="288.86" x2="349.40" y2="288.86" stroke="#444" stroke-width="0.6"/>
<line x1="351.70" y1="283.95" x2="350.40" y2="283.95" stroke="#444" stroke-width="0.6"/>
<line x1="351.70" y1="279.80" x2="350.40" y2="279.80" stroke="#444" stroke-width="0.6"/>
<line x1="351.70" y1="276.21" x2="350.40" y2="276.21" stroke="#444" stroke-width="0.6"/>
<line x1="351.70" y1="273.04" x2="350.40" y2="273.04" stroke="#444" stroke-width="0.6"/>
<line x1="351.70" y1="270.20" x2="349.40" y2="270.20" stroke="#444" stroke-width="0.6"/>
<rect x="65.90" y="257.40" width="285.80" height="176.80" fill="none" stroke="#222" stroke-width="0.9"/>
<text x="61.5" y="275.5" text-anchor="end" font-family="Liberation Serif, serif" font-size="14" fill="#000" >100</text>
<text x="61.5" y="294.4" text-anchor="end" font-family="Liberation Serif, serif" font-size="14" fill="#000" >50</text>
<text x="61.5" y="336.9" text-anchor="end" font-family="Liberation Serif, serif" font-size="14" fill="#000" >10</text>
<text x="61.5" y="355.8" text-anchor="end" font-family="Liberation Serif, serif" font-size="14" fill="#000" >5</text>
<text x="61.5" y="398.9" text-anchor="end" font-family="Liberation Serif, serif" font-size="14" fill="#000" >1</text>
<text x="61.5" y="417.6" text-anchor="end" font-family="Liberation Serif, serif" font-size="14" fill="#000" >0.5</text>
<text x="65.1" y="449.2" text-anchor="middle" font-family="Liberation Serif, serif" font-size="14" fill="#000" >0.1</text>
<text x="122.3" y="449.2" text-anchor="middle" font-family="Liberation Serif, serif" font-size="14" fill="#000" >1</text>
<text x="179.4" y="449.2" text-anchor="middle" font-family="Liberation Serif, serif" font-size="14" fill="#000" >10</text>
<text x="236.6" y="449.2" text-anchor="middle" font-family="Liberation Serif, serif" font-size="14" fill="#000" >100</text>
<text x="293.7" y="449.2" text-anchor="middle" font-family="Liberation Serif, serif" font-size="14" fill="#000" >1000</text>
<text x="342.2" y="453" font-family="Liberation Serif, serif" font-size="15.5" fill="#000">10<tspan dy="-6" dx="0.3" font-size="11">4</tspan></text>
<text x="198.2" y="482.4" font-family="Liberation Serif, serif" fill="#000" font-size="17.0" font-style="italic">t</text>
<text x="211.4" y="482.8" font-family="Liberation Serif, serif" fill="#000" font-size="16.5">[</text>
<text x="214.6" y="482.4" font-family="Liberation Serif, serif" fill="#000" font-size="16.5">s</text>
<text x="221.4" y="482.8" font-family="Liberation Serif, serif" fill="#000" font-size="16.5">]</text>
<g transform="translate(25.6,389.6) rotate(-90)">
<text x="0.0" y="0.0" font-family="Liberation Serif, serif" fill="#000" font-size="15.5" font-style="italic">r</text>
<text x="7.4" y="4.0" font-family="Liberation Serif, serif" fill="#000" font-size="11.0" textLength="16.0" lengthAdjust="spacingAndGlyphs">1/2</text>
<text x="33.0" y="0.5" font-family="Liberation Serif, serif" fill="#000" font-size="15.0">[</text>
<text x="36.4" y="0.0" font-family="Liberation Serif, serif" fill="#000" font-size="15.0" font-style="italic">μ</text>
<text x="45.2" y="0.0" font-family="Liberation Serif, serif" fill="#000" font-size="15.0" textLength="12.4" lengthAdjust="spacingAndGlyphs">m</text>
<text x="57.2" y="0.5" font-family="Liberation Serif, serif" fill="#000" font-size="15.0">]</text>
</g>
</svg>
</body></html>
